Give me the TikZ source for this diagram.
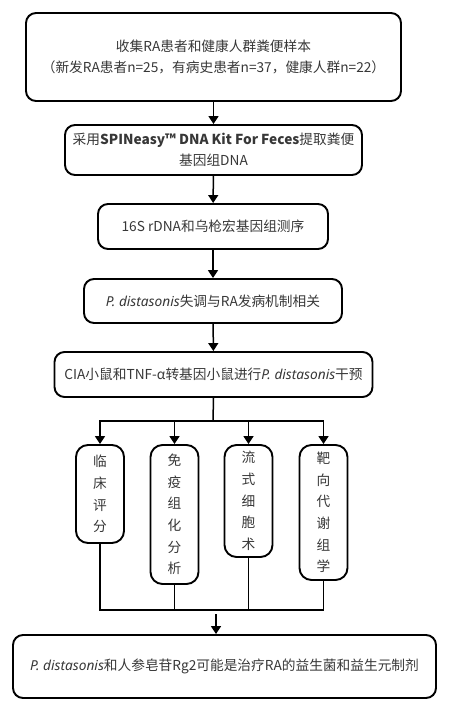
\documentclass[tikz,border=0pt]{standalone}
\usepackage{fontspec}
\setmainfont{Noto Sans CJK SC}
\newfontfamily\latfont{Noto Sans}
\usetikzlibrary{arrows.meta}
\definecolor{txt}{RGB}{55,55,55}
\newcommand\pdist{{\latfont\itshape P. distasonis}}
\begin{document}
\begin{tikzpicture}[x=1pt,y=-1pt,
  box/.style={draw=black,line width=1.9pt,rounded corners=10pt,align=center,
    text=txt,inner sep=0pt,font=\fontsize{13.7}{20.5}\selectfont},
  vbox/.style={draw=black,line width=1.9pt,rounded corners=12pt,align=center,
    text=txt,inner sep=0pt,minimum width=48pt,font=\fontsize{13.7}{21.7}\selectfont},
  conn/.style={line width=1.5pt,draw=black},
  arr/.style={conn,-{Triangle[width=10pt,length=8pt]}}]
\useasboundingbox (0,0) rectangle (464,711);
\node[box,minimum width=375pt,minimum height=88pt] (b1) at (213.5,57)
  {收集RA患者和健康人群粪便样本\\（新发RA患者n=25，有病史患者n=37，健康人群n=22）};
\node[box,minimum width=297pt,minimum height=50pt] (b2) at (213.5,150)
  {采用\textbf{SPINeasy™ DNA Kit For Feces}提取粪便\\基因组DNA};
\node[box,minimum width=230pt,minimum height=45pt] (b3) at (213,226.5)
  {16S rDNA和乌枪宏基因组测序};
\node[box,minimum width=258pt,minimum height=44pt] (b4) at (213,301)
  {\pdist 失调与RA发病机制相关};
\node[box,minimum width=318pt,minimum height=45pt] (b5) at (213.5,374.5)
  {CIA小鼠和TNF-α转基因小鼠进行\pdist 干预};
\node[vbox,minimum height=98pt] (s1) at (100,494) {临\\床\\评\\分};
\node[vbox,minimum height=139pt] (s2) at (174.5,514.5) {免\\疫\\组\\化\\分\\析};
\node[vbox,minimum height=112pt] (s3) at (248.5,501) {流\\式\\细\\胞\\术};
\node[vbox,minimum height=135pt] (s4) at (323.5,512.5) {靶\\向\\代\\谢\\组\\学};
\node[box,minimum width=423pt,minimum height=63pt] (b6) at (224.5,666.5)
  {\pdist 和人参皂苷Rg2可能是治疗RA的益生菌和益生元制剂};
\coordinate (j) at (213,421);
\coordinate (m) at (0,610);
\coordinate (a6) at (216,614);
\draw[arr] (b1) -- (b2);
\draw[arr] (b2) -- (b3);
\draw[arr] (b3) -- (b4);
\draw[arr] (b4) -- (b5);
\draw[conn] (b5.south) -- (j);
\draw[arr] (j) -| (s1.north);
\draw[arr] (j) -| (s2.north);
\draw[arr] (j) -| (s3.north);
\draw[arr] (j) -| (s4.north);
\draw[conn] (s1.south) |- (s4.south |- m) -- (s4.south);
\draw[conn] (s2.south) -- (s2.south |- m);
\draw[conn] (s3.south) -- (s3.south |- m);
\draw[arr] (a6) -- (a6 |- b6.north);
\end{tikzpicture}
\end{document}
